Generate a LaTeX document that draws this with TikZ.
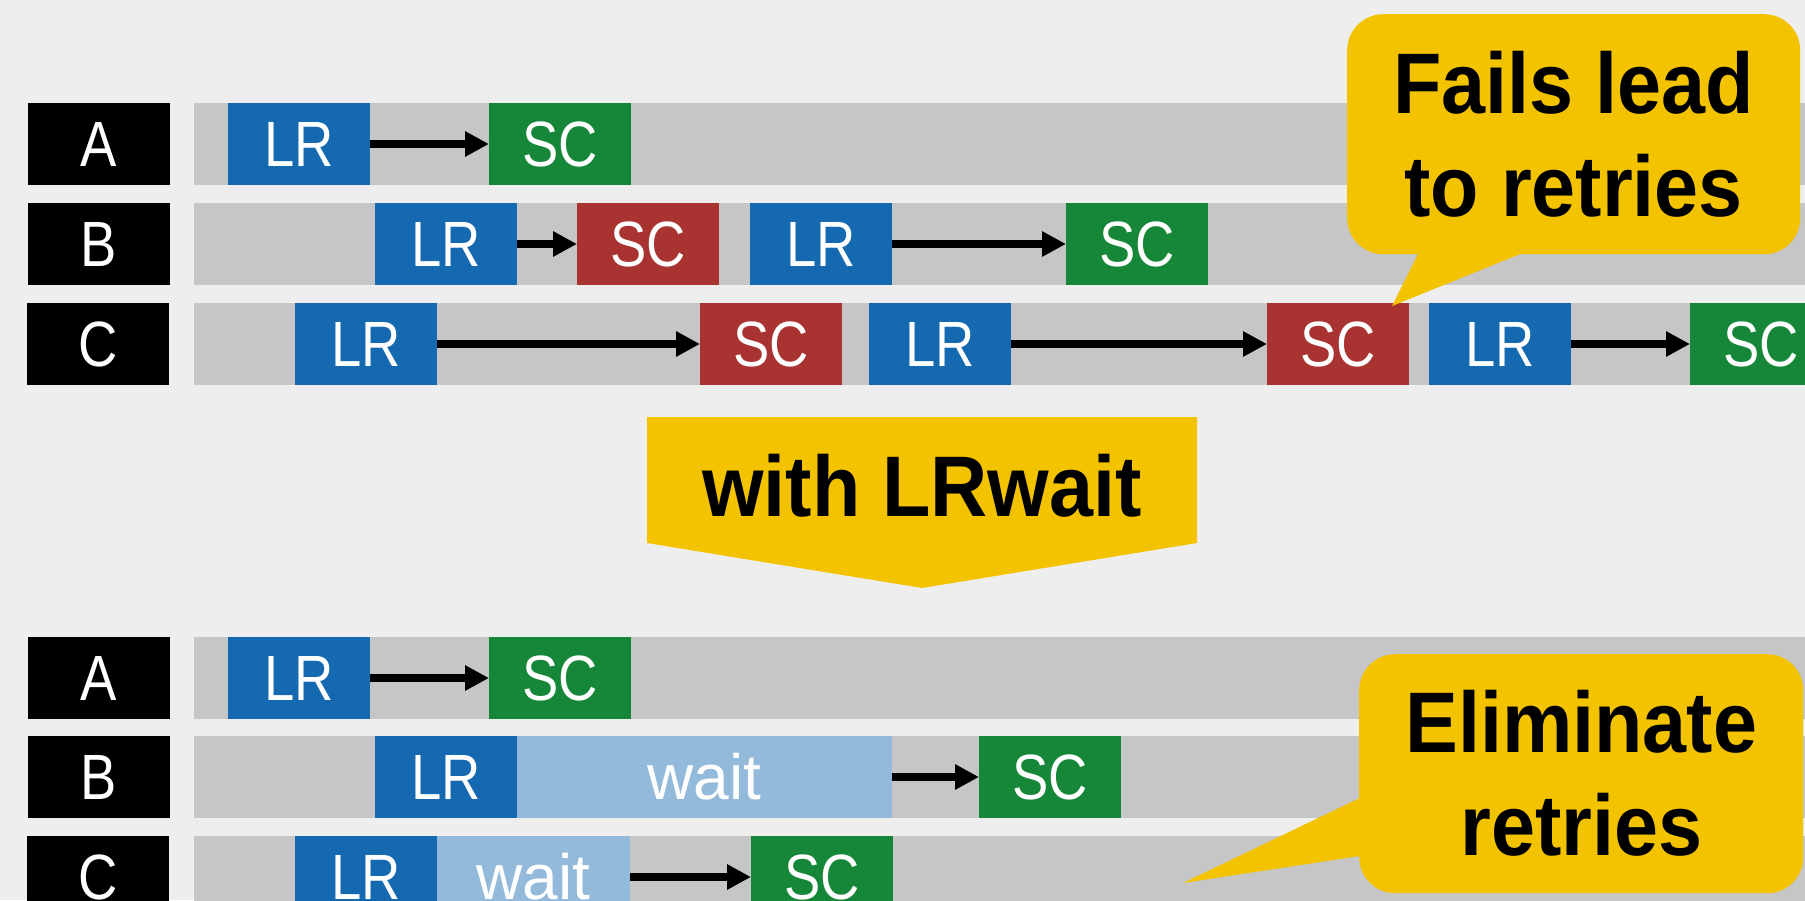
\documentclass[tikz,border=0pt]{standalone}
\usepackage{fontspec}
\setmainfont{Liberation Sans}
\newfontfamily\boxfont[FakeStretch=0.85]{Liberation Sans}
\newfontfamily\waitfont{Liberation Sans}
\newfontfamily\callfont[FakeStretch=0.92]{Liberation Sans}
\usetikzlibrary{arrows.meta}
\definecolor{bgc}{HTML}{EEEEEE}
\definecolor{barc}{HTML}{C6C6C6}
\definecolor{lrc}{HTML}{1469B0}
\definecolor{okc}{HTML}{168738}
\definecolor{failc}{HTML}{A83330}
\definecolor{waitc}{HTML}{93B9DB}
\definecolor{yelc}{HTML}{F3C300}
\tikzset{
  blk/.style={anchor=north west, inner sep=0pt, outer sep=0pt, minimum width=142pt, minimum height=82pt, text=white, font=\boxfont\fontsize{64}{64}\selectfont},
  lab/.style={blk, fill=black},
  lrbox/.style={blk, fill=lrc},
  okbox/.style={blk, fill=okc},
  failbox/.style={blk, fill=failc},
  waitbox/.style={blk, fill=waitc, font=\waitfont\fontsize{64}{64}\selectfont},
  bar/.style={anchor=north west, inner sep=0pt, outer sep=0pt, fill=barc, minimum width=1611pt, minimum height=82pt},
  arr/.style={line width=8pt, -{Triangle[length=24pt,width=24pt]}},
  callout/.style={anchor=north west, fill=yelc, rounded corners=36pt, inner sep=0pt, align=center, text=black, font=\callfont\bfseries\fontsize{86}{103}\selectfont},
}
\begin{document}
\begin{tikzpicture}[x=1pt,y=-1pt]
\useasboundingbox (0,0) rectangle (1805,900);
\clip (0,0) rectangle (1805,900);
\fill[bgc] (0,0) rectangle (1805,900);

% ---------- top (without LRwait) ----------
\node[bar] (barA1) at (194,103) {};
\node[bar] (barB1) at (194,203) {};
\node[bar] (barC1) at (194,303) {};
\node[lab] (labA1) at (28,103) {A};
\node[lab] (labB1) at (28,203) {B};
\node[lab] (labC1) at (27,303) {C};

\node[lrbox] (lrA1) at (228,103) {LR};
\node[okbox] (scA1) at (489,103) {SC};

\node[lrbox] (lrB1) at (375,203) {LR};
\node[failbox] (scB1) at (577,203) {SC};
\node[lrbox] (lrB2) at (750,203) {LR};
\node[okbox] (scB2) at (1066,203) {SC};

\node[lrbox] (lrC1) at (295,303) {LR};
\node[failbox] (scC1) at (700,303) {SC};
\node[lrbox] (lrC2) at (869,303) {LR};
\node[failbox] (scC2) at (1267,303) {SC};
\node[lrbox] (lrC3) at (1429,303) {LR};
\node[okbox] (scC3) at (1690,303) {SC};

\draw[arr] (lrA1.east) -- (scA1.west);
\draw[arr] (lrB1.east) -- (scB1.west);
\draw[arr] (lrB2.east) -- (scB2.west);
\draw[arr] (lrC1.east) -- (scC1.west);
\draw[arr] (lrC2.east) -- (scC2.west);
\draw[arr] (lrC3.east) -- (scC3.west);

% callout: Fails lead to retries
\coordinate (tip1) at (1392,306);
\fill[yelc] (1421,248) -- (tip1) -- (1535,248) -- cycle;
\node[callout, minimum width=453pt, minimum height=240pt] (call1) at (1347,14) {Fails lead\\to retries};

% ---------- banner ----------
\fill[yelc] (647,417) -- (1197,417) -- (1197,543) -- (922,588) -- (647,543) -- cycle;
\node[inner sep=0pt, font=\callfont\bfseries\fontsize{86}{103}\selectfont] (banner) at (922,486) {with LRwait};

% ---------- bottom (with LRwait) ----------
\node[bar] (barA2) at (194,637) {};
\node[bar] (barB2) at (194,736) {};
\node[bar] (barC2) at (194,836) {};
\node[lab] (labA2) at (28,637) {A};
\node[lab] (labB2) at (28,736) {B};
\node[lab] (labC2) at (27,836) {C};

\node[lrbox] (lrA3) at (228,637) {LR};
\node[okbox] (scA3) at (489,637) {SC};

\node[lrbox] (lrB3) at (375,736) {LR};
\node[waitbox, minimum width=375pt] (wB3) at (517,736) {wait};
\node[okbox] (scB3) at (979,736) {SC};

\node[lrbox] (lrC4) at (295,836) {LR};
\node[waitbox, minimum width=193pt] (wC4) at (437,836) {wait};
\node[okbox] (scC4) at (751,836) {SC};

\draw[arr] (lrA3.east) -- (scA3.west);
\draw[arr] (wB3.east) -- (scB3.west);
\draw[arr] (wC4.east) -- (scC4.west);

% callout: Eliminate retries
\coordinate (tip2) at (1183,883);
\fill[yelc] (1366,795) -- (tip2) -- (1366,855) -- cycle;
\node[callout, minimum width=444pt, minimum height=239pt] (call2) at (1359,654) {Eliminate\\retries};
\end{tikzpicture}
\end{document}
